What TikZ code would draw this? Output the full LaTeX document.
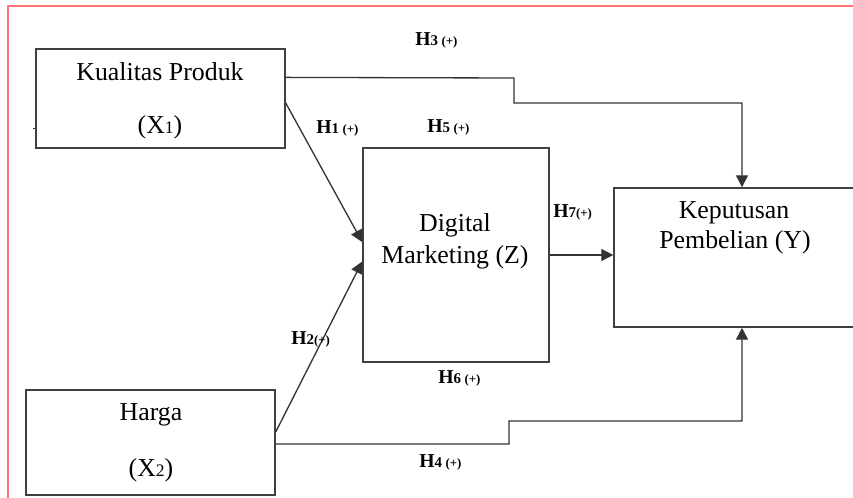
\documentclass[tikz,border=0pt]{standalone}
\usepackage{fontspec}
\setmainfont{Liberation Serif}
\usetikzlibrary{arrows.meta,calc}
\definecolor{framered}{RGB}{255,115,115}
\newcommand{\hyp}[2]{\textbf{H}{\fontsize{8.5}{9}\selectfont\bfseries #1}#2{\fontsize{7.3}{8}\selectfont\bfseries(+)}}
\begin{document}
\begin{tikzpicture}[scale=0.2,
	box/.style={draw=black!75, line width=0.85pt, inner sep=0pt},
	link/.style={draw=black!80, line width=0.75pt, -{Triangle[length=6.8pt,width=6.8pt]}},
	plain/.style={draw=black!80, line width=0.75pt},
	txt/.style={anchor=base, inner sep=0pt, font=\fontsize{14.7}{17}\selectfont},
	hlab/.style={anchor=base west, inner sep=0pt, font=\fontsize{11.2}{13}\selectfont}]
		\useasboundingbox (0,0) rectangle (85.3,-49.7);
		\draw [framered, line width=1.1pt] (0.8,-52) -- (0.8,-0.6) -- (90,-0.6);
		% boxes
		\node [box, minimum width=4.98cm, minimum height=1.98cm] (kp) at (16.05,-9.85) {};
		\node [box, minimum width=3.72cm, minimum height=4.28cm] (dm) at (45.6,-25.5) {};
		\node [box, minimum width=5.12cm, minimum height=2.78cm] (kep) at (74.2,-25.75) {};
		\node [box, minimum width=4.98cm, minimum height=2.1cm] (hg) at (15.05,-44.25) {};
		\node [txt] (kp1) at (16.0,-8.0) {Kualitas Produk};
		\node [txt] (kp2) at (16.0,-13.3) {(X{\fontsize{10}{12}\selectfont 1})};
		\node [txt] (dm1) at (45.5,-23.1) {Digital};
		\node [txt] (dm2) at (45.5,-26.3) {Marketing (Z)};
		\node [txt] (kep1) at (73.4,-21.8) {Keputusan};
		\node [txt] (kep2) at (73.5,-24.8) {Pembelian (Y)};
		\node [txt] (hg1) at (15.1,-42.0) {Harga};
		\node [txt] (hg2) at (15.1,-47.6) {(X{\fontsize{10}{12}\selectfont 2})};
		% connectors
		\coordinate (tick) at ($(kp.north west)!0.8!(kp.south west)$);
		\draw [plain] (tick) -- ++(-0.25,0);
		\coordinate (kp3) at ($(kp.north east)!0.29!(kp.south east)$);
		\draw [link] (kp3) -- (51.4,-7.8) -- (51.4,-10.3) -| (kep.north);
		\draw [link] ($(kp.north east)!0.545!(kp.south east)$) -- ($(dm.north west)!0.44!(dm.south west)$);
		\draw [link] ($(hg.north east)!0.4!(hg.south east)$) -- ($(dm.north west)!0.53!(dm.south west)$);
		\draw [link] (dm.east) -- (dm.east -| kep.west);
		\coordinate (hg4) at ($(hg.north east)!0.514!(hg.south east)$);
		\draw [link] (hg4) -- (50.9,-44.4) -- (50.9,-42.1) -| (kep.south);
		% labels
		\node [hlab] (h3) at (41.5,-4.5) {\hyp{3}{\hspace{2pt}}};
		\node [hlab] (h1) at (31.6,-13.3) {\hyp{1}{\hspace{2pt}}};
		\node [hlab] (h5) at (42.7,-13.2) {\hyp{5}{\hspace{2pt}}};
		\node [hlab] (h7) at (55.3,-21.7) {\hyp{7}{}};
		\node [hlab] (h2) at (29.1,-34.4) {\hyp{2}{}};
		\node [hlab] (h6) at (43.8,-38.3) {\hyp{6}{\hspace{2pt}}};
		\node [hlab] (h4) at (41.9,-46.7) {\hyp{4}{\hspace{2pt}}};
	\end{tikzpicture}
\end{document}
